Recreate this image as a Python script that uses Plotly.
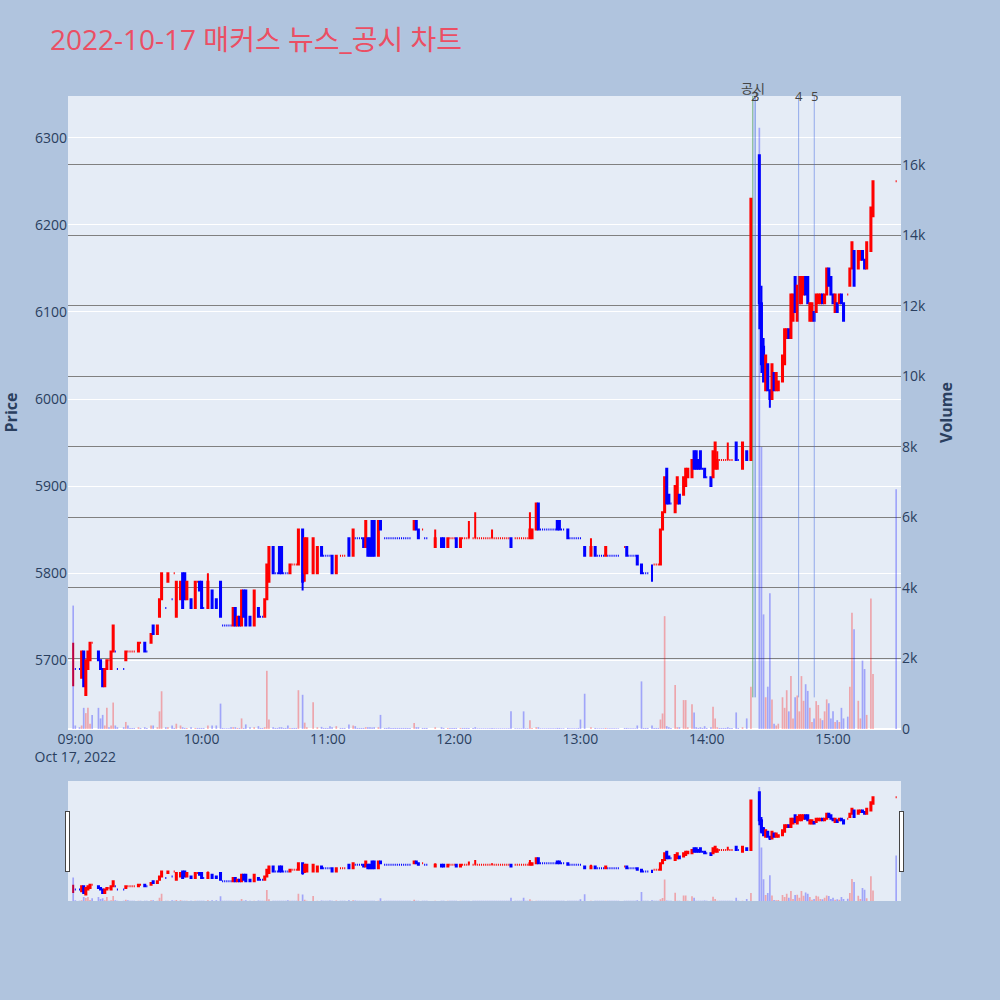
import pandas as pd
import plotly.graph_objects as go
from plotly.subplots import make_subplots

# ---------------- data (1-minute candles, 2022-10-17) ----------------
# minutes after 09:00
minutes = [
    # 09:00 - 10:18
    -1, 0, 2, 3, 4, 5, 6, 7, 8,
    11, 12, 13, 14, 15, 16, 17, 18, 19, 20,
    23, 24, 25, 26, 27, 28,
    30, 31, 33, 34, 36, 37, 39, 40, 41,
    43, 44, 46, 47, 48, 50, 51, 52, 53,
    55, 57, 58, 59, 60, 61, 63, 65, 67, 69,
    70, 71, 72, 73, 74, 75, 76, 77, 78,
    # 10:19 - 11:37
    79, 80, 81, 83, 85, 87, 88, 89, 90, 91, 92,
    94, 95, 96, 97, 98, 99, 100, 101, 102, 103, 104, 105,
    106, 108, 109, 110, 113, 115, 117, 118, 119, 120, 121,
    122, 124, 126, 127, 128, 130, 132, 133, 134, 135, 136,
    137, 138, 139, 140, 141, 142, 144, 145,
    147, 148, 149, 150, 151, 152, 153, 154, 155, 156, 157,
    # 11:38 - 12:58
    158, 159, 161, 162, 163, 165, 166, 167,
    171, 174, 175, 177, 178, 179, 180, 181, 183,
    184, 185, 186, 187, 189, 190, 191, 192, 193, 194,
    195, 196, 197, 198, 199, 200, 201, 202, 203, 204,
    205, 206, 207, 209, 210, 211, 212, 213, 214, 215,
    216, 217, 219, 220, 221, 222, 223, 224, 225, 226,
    227, 228, 229, 230, 231, 232, 234, 235, 236, 237, 238,
    # 12:59 - 14:19
    239, 240, 242, 245, 247, 248, 249, 250, 251, 252,
    253, 254, 255, 256, 257, 258, 261, 262, 263, 264,
    265, 266, 267, 269, 270, 271, 272, 274, 275, 276,
    277, 278, 279, 280, 281, 282, 283, 285, 286, 287,
    289, 290, 291, 293, 294, 295, 296, 297, 298, 299,
    300, 302, 303, 304, 305, 306, 307, 308, 309, 310,
    311, 312, 314, 315, 317, 319,
    # 14:21 - 15:30
    321, 325, 326, 327, 328, 329, 330, 331, 332, 333,
    334, 336, 337, 338, 339, 340, 341, 342, 343, 344,
    345, 346, 347, 348, 349, 350, 351, 352, 353, 354,
    355, 356, 357, 358, 359, 360, 361, 362, 363, 364,
    365, 367, 368, 369, 370, 372, 373, 374, 375, 376,
    378, 379, 390,
]

opens = [
    5700, 5690, 5690, 5680, 5710, 5660, 5690, 5700, 5720,
    5710, 5700, 5690, 5670, 5690, 5700, 5690, 5710, 5710, 5690,
    5690, 5700, 5710, 5710, 5710, 5710,
    5710, 5720, 5720, 5710, 5720, 5740, 5730, 5750, 5770,
    5760, 5790, 5770, 5800, 5750, 5770, 5800, 5800, 5770,
    5770, 5760, 5790, 5790, 5790, 5760, 5760, 5780, 5770, 5790,
    5740, 5740, 5740, 5740, 5740, 5740, 5760, 5740, 5750,
    5740, 5780, 5780, 5750, 5740, 5760, 5750, 5750, 5750, 5770, 5790,
    5830, 5800, 5800, 5830, 5830, 5800, 5800, 5800, 5800, 5810, 5810, 5810,
    5810, 5850, 5800, 5800, 5800, 5800, 5830, 5820, 5820, 5820, 5820,
    5820, 5800, 5820, 5820, 5820, 5840, 5820, 5840, 5840, 5840, 5840,
    5840, 5830, 5840, 5840, 5860, 5860, 5820, 5860,
    5840, 5840, 5840, 5840, 5840, 5840, 5840, 5840, 5840, 5840, 5840,
    5840, 5840, 5850, 5860, 5850, 5850, 5840, 5840,
    5830, 5840, 5840, 5830, 5840, 5840, 5840, 5840, 5830,
    5840, 5840, 5840, 5840, 5840, 5840, 5840, 5840, 5840, 5840,
    5840, 5840, 5840, 5840, 5840, 5840, 5840, 5840, 5840, 5840,
    5840, 5840, 5840, 5840, 5840, 5840, 5840, 5840, 5840, 5840,
    5840, 5840, 5850, 5880, 5850, 5850, 5850, 5850, 5850, 5850,
    5850, 5850, 5860, 5860, 5850, 5850, 5850, 5840, 5840, 5840, 5840,
    5840, 5840, 5830, 5820, 5830, 5820, 5820, 5820, 5820, 5820,
    5820, 5820, 5820, 5820, 5820, 5820, 5830, 5830, 5820, 5820,
    5820, 5820, 5820, 5810, 5800, 5800, 5800, 5800, 5810, 5810,
    5810, 5810, 5850, 5870, 5920, 5890, 5880, 5870, 5880, 5890,
    5890, 5900, 5910, 5910, 5940, 5940, 5930, 5940, 5920, 5920,
    5910, 5910, 5910, 5920, 5920, 5930, 5930, 5930, 5930, 5930,
    5930, 5930, 5950, 5930, 5920, 5940,
    5930, 6280, 6110, 6060, 6010, 6040, 6010, 6000, 6030, 6010,
    6010, 6020, 6040, 6070, 6080, 6070, 6090, 6140, 6090, 6110,
    6110, 6120, 6140, 6140, 6090, 6090, 6100, 6100, 6110, 6110,
    6120, 6110, 6120, 6150, 6140, 6120, 6100, 6110, 6110, 6120,
    6110, 6120, 6130, 6150, 6170, 6150, 6160, 6170, 6160, 6150,
    6170, 6210, 6250,
]

highs = [
    5720, 5690, 5690, 5710, 5710, 5700, 5710, 5720, 5720,
    5710, 5700, 5690, 5690, 5700, 5700, 5710, 5740, 5710, 5690,
    5690, 5710, 5710, 5710, 5710, 5710,
    5720, 5720, 5720, 5710, 5730, 5740, 5740, 5770, 5800,
    5760, 5800, 5770, 5800, 5790, 5790, 5800, 5800, 5790,
    5770, 5790, 5790, 5790, 5790, 5760, 5800, 5780, 5770, 5790,
    5740, 5740, 5740, 5740, 5740, 5760, 5760, 5750, 5750,
    5780, 5780, 5780, 5750, 5780, 5760, 5750, 5750, 5770, 5810, 5830,
    5830, 5800, 5800, 5830, 5830, 5800, 5800, 5800, 5810, 5810, 5810, 5810,
    5850, 5850, 5840, 5840, 5840, 5830, 5830, 5820, 5820, 5820, 5820,
    5820, 5820, 5820, 5820, 5820, 5840, 5850, 5840, 5840, 5840, 5840,
    5840, 5860, 5840, 5840, 5860, 5860, 5860, 5860,
    5840, 5840, 5840, 5840, 5840, 5840, 5840, 5840, 5840, 5840, 5840,
    5840, 5840, 5860, 5860, 5850, 5850, 5840, 5840,
    5850, 5840, 5840, 5840, 5840, 5840, 5840, 5840, 5840,
    5840, 5840, 5840, 5860, 5840, 5870, 5840, 5840, 5840, 5840,
    5840, 5840, 5840, 5850, 5840, 5840, 5840, 5840, 5840, 5840,
    5840, 5840, 5840, 5840, 5840, 5840, 5840, 5840, 5840, 5840,
    5870, 5850, 5880, 5880, 5850, 5850, 5850, 5850, 5850, 5850,
    5850, 5850, 5860, 5860, 5850, 5850, 5850, 5840, 5840, 5840, 5840,
    5840, 5840, 5830, 5840, 5830, 5820, 5820, 5820, 5820, 5830,
    5820, 5820, 5820, 5820, 5820, 5820, 5830, 5830, 5820, 5820,
    5820, 5820, 5820, 5810, 5800, 5800, 5800, 5810, 5810, 5810,
    5810, 5850, 5870, 5910, 5920, 5890, 5880, 5900, 5910, 5890,
    5910, 5920, 5920, 5930, 5940, 5940, 5930, 5940, 5920, 5920,
    5910, 5910, 5940, 5950, 5940, 5930, 5930, 5930, 5930, 5950,
    5930, 5930, 5950, 5930, 5950, 5940,
    6230, 6280, 6130, 6070, 6050, 6040, 6010, 6040, 6030, 6030,
    6020, 6050, 6080, 6080, 6080, 6120, 6120, 6140, 6130, 6140,
    6140, 6140, 6140, 6140, 6110, 6110, 6100, 6120, 6120, 6120,
    6120, 6120, 6150, 6150, 6140, 6120, 6120, 6110, 6120, 6120,
    6110, 6120, 6150, 6180, 6170, 6170, 6170, 6170, 6160, 6180,
    6220, 6250, 6250,
]

lows = [
    5670, 5690, 5690, 5680, 5670, 5660, 5690, 5700, 5720,
    5700, 5690, 5670, 5670, 5690, 5700, 5690, 5710, 5710, 5690,
    5690, 5700, 5710, 5710, 5710, 5710,
    5710, 5720, 5710, 5710, 5720, 5730, 5730, 5750, 5770,
    5760, 5790, 5770, 5800, 5750, 5770, 5760, 5770, 5770,
    5760, 5760, 5790, 5780, 5760, 5760, 5760, 5760, 5760, 5750,
    5740, 5740, 5740, 5740, 5740, 5740, 5740, 5740, 5740,
    5740, 5750, 5740, 5740, 5740, 5750, 5750, 5750, 5750, 5770, 5790,
    5800, 5800, 5800, 5800, 5800, 5800, 5800, 5800, 5800, 5810, 5810, 5810,
    5810, 5780, 5790, 5800, 5800, 5800, 5820, 5820, 5820, 5820, 5820,
    5800, 5800, 5820, 5820, 5820, 5820, 5820, 5840, 5840, 5840, 5840,
    5830, 5830, 5820, 5820, 5820, 5820, 5820, 5850,
    5840, 5840, 5840, 5840, 5840, 5840, 5840, 5840, 5840, 5840, 5840,
    5840, 5840, 5850, 5850, 5840, 5850, 5840, 5840,
    5830, 5830, 5830, 5830, 5840, 5840, 5840, 5830, 5830,
    5840, 5840, 5840, 5840, 5840, 5840, 5840, 5840, 5840, 5840,
    5840, 5840, 5840, 5840, 5840, 5840, 5840, 5840, 5840, 5840,
    5840, 5840, 5830, 5840, 5840, 5840, 5840, 5840, 5840, 5840,
    5840, 5840, 5850, 5850, 5850, 5850, 5850, 5850, 5850, 5850,
    5850, 5850, 5850, 5850, 5850, 5850, 5840, 5840, 5840, 5840, 5840,
    5840, 5840, 5820, 5820, 5820, 5820, 5820, 5820, 5820, 5820,
    5820, 5820, 5820, 5820, 5820, 5820, 5830, 5820, 5820, 5820,
    5820, 5820, 5810, 5800, 5800, 5800, 5800, 5790, 5810, 5810,
    5810, 5810, 5850, 5870, 5880, 5880, 5880, 5870, 5880, 5880,
    5890, 5900, 5910, 5910, 5920, 5920, 5920, 5920, 5920, 5910,
    5910, 5900, 5910, 5920, 5920, 5930, 5930, 5930, 5930, 5930,
    5930, 5930, 5930, 5930, 5920, 5930,
    5930, 6080, 6030, 6020, 6010, 6010, 5990, 6000, 6010, 6010,
    6010, 6020, 6040, 6070, 6070, 6070, 6090, 6100, 6090, 6110,
    6110, 6120, 6120, 6110, 6090, 6090, 6090, 6100, 6110, 6110,
    6110, 6110, 6120, 6130, 6120, 6110, 6100, 6100, 6110, 6110,
    6090, 6120, 6130, 6150, 6130, 6150, 6160, 6160, 6150, 6150,
    6170, 6210, 6250,
]

closes = [
    5700, 5690, 5690, 5710, 5670, 5700, 5710, 5720, 5720,
    5700, 5690, 5670, 5690, 5700, 5700, 5710, 5740, 5710, 5690,
    5690, 5710, 5710, 5710, 5710, 5710,
    5720, 5720, 5710, 5710, 5730, 5730, 5740, 5770, 5800,
    5760, 5800, 5770, 5800, 5790, 5790, 5760, 5770, 5790,
    5760, 5790, 5790, 5780, 5760, 5760, 5790, 5760, 5760, 5750,
    5740, 5740, 5740, 5740, 5740, 5760, 5740, 5750, 5740,
    5780, 5750, 5740, 5740, 5780, 5750, 5750, 5750, 5770, 5810, 5830,
    5800, 5800, 5800, 5800, 5800, 5800, 5800, 5800, 5810, 5810, 5810, 5810,
    5850, 5790, 5840, 5840, 5840, 5830, 5820, 5820, 5820, 5820, 5820,
    5800, 5820, 5820, 5820, 5820, 5820, 5850, 5840, 5840, 5840, 5840,
    5830, 5860, 5820, 5820, 5820, 5820, 5860, 5850,
    5840, 5840, 5840, 5840, 5840, 5840, 5840, 5840, 5840, 5840, 5840,
    5840, 5840, 5860, 5850, 5840, 5850, 5840, 5840,
    5840, 5830, 5830, 5840, 5840, 5840, 5840, 5830, 5840,
    5840, 5840, 5840, 5840, 5840, 5840, 5840, 5840, 5840, 5840,
    5840, 5840, 5840, 5840, 5840, 5840, 5840, 5840, 5840, 5840,
    5840, 5840, 5830, 5840, 5840, 5840, 5840, 5840, 5840, 5840,
    5850, 5850, 5880, 5850, 5850, 5850, 5850, 5850, 5850, 5850,
    5850, 5850, 5850, 5850, 5850, 5850, 5840, 5840, 5840, 5840, 5840,
    5840, 5840, 5820, 5830, 5820, 5820, 5820, 5820, 5820, 5830,
    5820, 5820, 5820, 5820, 5820, 5820, 5830, 5820, 5820, 5820,
    5820, 5820, 5810, 5800, 5800, 5800, 5800, 5800, 5810, 5810,
    5810, 5850, 5870, 5910, 5880, 5880, 5880, 5900, 5910, 5880,
    5910, 5920, 5920, 5930, 5920, 5920, 5920, 5920, 5920, 5910,
    5910, 5900, 5940, 5950, 5930, 5930, 5930, 5930, 5930, 5930,
    5930, 5930, 5930, 5930, 5950, 5930,
    6230, 6110, 6040, 6020, 6050, 6010, 6000, 6040, 6010, 6030,
    6020, 6050, 6080, 6080, 6070, 6120, 6120, 6100, 6130, 6140,
    6140, 6140, 6120, 6110, 6110, 6110, 6090, 6120, 6120, 6120,
    6110, 6120, 6150, 6130, 6120, 6110, 6120, 6100, 6120, 6110,
    6090, 6120, 6150, 6180, 6130, 6170, 6170, 6160, 6150, 6180,
    6220, 6250, 6250,
]

volumes = [
    3500, 100, 50, 100, 600, 450, 600, 150, 400,
    600, 300, 400, 100, 600, 50, 100, 750, 100, 50,
    50, 200, 100, 30, 30, 30,
    50, 30, 50, 30, 100, 100, 50, 500, 1070,
    50, 50, 100, 30, 150, 100, 50, 30, 30,
    50, 30, 30, 30, 30, 30, 100, 100, 100, 720,
    30, 20, 20, 20, 50, 50, 50, 30, 30,
    300, 30, 130, 50, 50, 80, 30, 30, 50, 1650, 270,
    50, 30, 30, 50, 50, 30, 30, 100, 30, 30, 30, 30,
    1100, 970, 180, 50, 760, 50, 60, 30, 30, 30, 80,
    50, 80, 30, 30, 30, 130, 100, 80, 30, 30, 30,
    30, 50, 50, 50, 40, 50, 50, 400,
    30, 30, 40, 30, 30, 30, 30, 30, 30, 30, 30,
    30, 30, 170, 50, 50, 30, 30, 30,
    50, 50, 30, 30, 30, 30, 30, 30, 30,
    30, 30, 30, 30, 30, 50, 20, 20, 20, 20,
    20, 20, 20, 30, 20, 20, 20, 20, 20, 20,
    20, 20, 500, 20, 20, 20, 20, 500, 20, 20,
    250, 30, 50, 50, 20, 20, 20, 20, 20, 20,
    20, 20, 30, 30, 20, 20, 30, 20, 20, 20, 20,
    30, 270, 1000, 50, 30, 20, 20, 20, 20, 30,
    20, 20, 20, 20, 20, 20, 30, 30, 20, 20,
    20, 20, 100, 1350, 30, 30, 30, 100, 30, 30,
    30, 270, 440, 3200, 80, 50, 30, 1250, 50, 50,
    820, 820, 50, 700, 470, 50, 30, 50, 30, 80,
    30, 50, 630, 300, 50, 30, 30, 30, 30, 50,
    30, 30, 470, 30, 50, 300,
    1200, 17050, 8000, 3250, 900, 1200, 3850, 840, 150, 100,
    150, 900, 600, 1100, 500, 1500, 300, 900, 950, 500,
    1500, 800, 1270, 1080, 600, 200, 300, 790, 680, 300,
    250, 500, 840, 730, 300, 500, 200, 250, 200, 600,
    300, 350, 1200, 3300, 2830, 800, 300, 1940, 1700, 400,
    3700, 1560, 6800,
]

# disclosure / news markers
marker_times = ["2022-10-17 14:21:50", "2022-10-17 14:22:30", "2022-10-17 14:23:10",
                "2022-10-17 14:43:40", "2022-10-17 14:51:05"]
marker_labels = ["공시", "2", "3", "4", "5"]

title_text = "2022-10-17 매커스 뉴스_공시 차트"

# ---------------- figure ----------------
base = pd.Timestamp("2022-10-17 09:00:00")
t = base + pd.to_timedelta(minutes, unit="m")

vol_colors = ["rgba(255,0,0,0.3)" if c > o else "rgba(0,0,255,0.3)"
              for o, c in zip(opens, closes)]

fig = make_subplots(specs=[[{"secondary_y": True}]])

fig.add_trace(go.Candlestick(
    x=t, open=opens, high=highs, low=lows, close=closes,
    increasing=dict(line=dict(color="#FF0000"), fillcolor="#FF0000"),
    decreasing=dict(line=dict(color="#0000FF"), fillcolor="#0000FF"),
    showlegend=False, name="Price"), secondary_y=False)

fig.add_trace(go.Bar(
    x=t, y=volumes, marker=dict(color=vol_colors, line=dict(width=0)),
    showlegend=False, name="Volume"), secondary_y=True)

x_range = ["2022-10-17 08:56:32", "2022-10-17 15:32:18"]

for i, (mt, lab) in enumerate(zip(marker_times, marker_labels)):
    col = "rgba(34,139,34,0.5)" if i == 0 else "rgba(65,105,225,0.5)"
    fig.add_shape(type="line", x0=mt, x1=mt, xref="x", y0=0.05, y1=1, yref="paper",
                  line=dict(color=col, width=1))
    fig.add_annotation(x=mt, y=1, xref="x", yref="paper", text=lab, showarrow=False,
                       yanchor="bottom" if i == 0 else "middle",
                       yshift=-3 if i == 0 else 0,
                       font=dict(size=13, color="#444"))

fig.update_layout(
    width=1000, height=1000,
    template="plotly",
    paper_bgcolor="#B0C4DE",
    plot_bgcolor="#E5ECF6",
    font=dict(family="Open Sans, Noto Sans CJK KR, sans-serif", size=14),
    title=dict(text=title_text, x=0.05, xanchor="left", y=0.96, yanchor="middle",
               font=dict(size=28, color="#EB4F64",
                         family="Open Sans, Noto Sans CJK KR, sans-serif")),
    margin=dict(l=68, r=99, t=96, b=271, autoexpand=False),
    showlegend=False,
    bargap=0.2,
)

fig.update_xaxes(range=x_range, showgrid=False, domain=[0, 1],
                 rangeslider=dict(visible=True, thickness=0.19, bgcolor="#E5ECF6",
                                  range=x_range))
fig.update_yaxes(title=dict(text="<b>Price</b>", font=dict(size=16)),
                 range=[5621, 6348], gridcolor="white", secondary_y=False)
fig.update_yaxes(title=dict(text="<b>Volume</b>", font=dict(size=16)),
                 range=[0, 17950], gridcolor="gray", gridwidth=1, secondary_y=True)

fig.write_html("out.html", config={"displayModeBar": False},
               post_script="document.body.style.margin='0px';")
